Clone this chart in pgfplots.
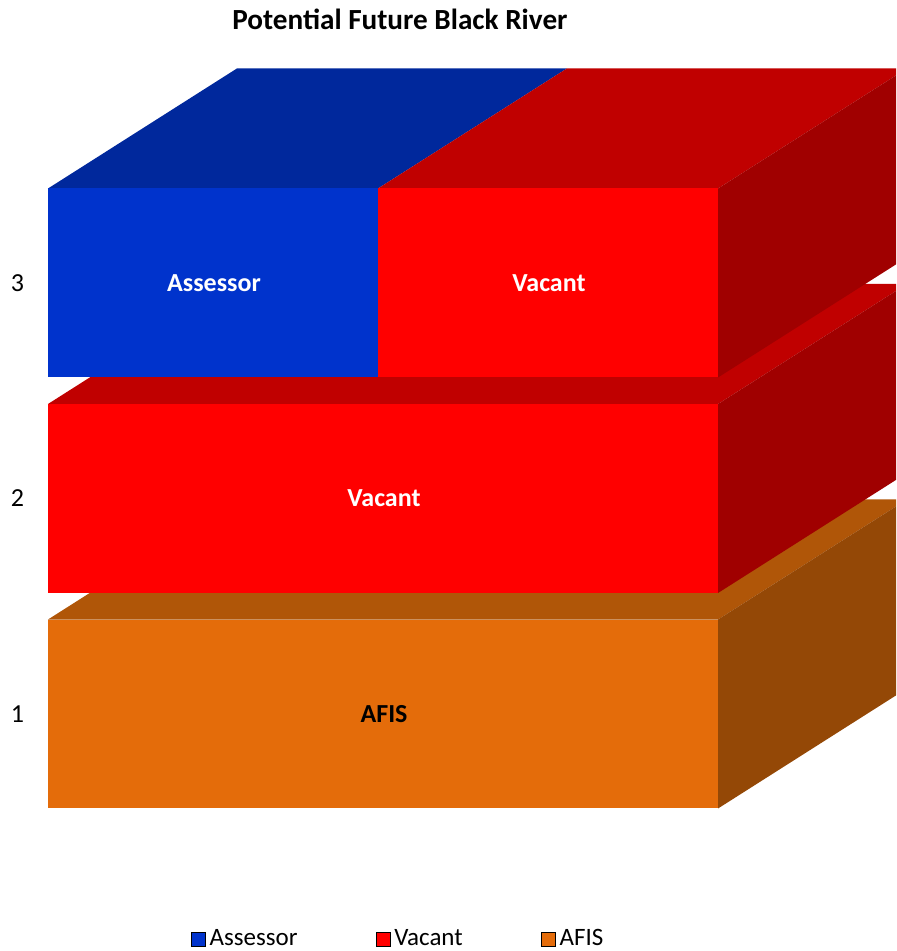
\documentclass[border=0pt]{standalone}
\usepackage{fontspec}
\setmainfont{Carlito}
\usepackage{pgfplots}
\pgfplotsset{compat=1.18}

\definecolor{asfront}{HTML}{0033CC}
\definecolor{astop}{HTML}{00289C}
\definecolor{vafront}{HTML}{FF0000}
\definecolor{vatop}{HTML}{C00000}
\definecolor{vaside}{HTML}{A00000}
\definecolor{affront}{HTML}{E46C0A}
\definecolor{aftop}{HTML}{B05608}
\definecolor{afside}{HTML}{944806}

\begin{document}
\begin{tikzpicture}
\begin{axis}[
    scale only axis,
    width=424pt, height=377.125pt,
    xmin=0, xmax=2.5313, ymin=0.5, ymax=4,
    axis line style={draw=none},
    xtick=\empty, ytick={1,2,3},
    major tick length=0pt,
    /pgf/number format/assume math mode=true,
    yticklabel style={anchor=center, xshift=-15.25pt, font=\fontsize{13}{15}\selectfont},
    title={Potential Future Black River},
    every axis title shift=0pt,
    title style={at={(0.415,1)}, anchor=center, yshift=23.9pt, font=\fontsize{14.6}{17}\selectfont\bfseries},
    legend style={at={(0.414,0)}, anchor=center, yshift=-58.6pt, draw=none, fill=none,
      legend columns=3, font=\fontsize{12.5}{14}\selectfont,
      /tikz/every even column/.append style={column sep=37pt}},
    legend image code/.code={\fill[#1] (0pt,-3.5pt) rectangle (7pt,3.5pt);},
  ]
  % top faces (depth: dx=0.564, dy=0.557, half bar=0.4385)
  \addplot[fill=aftop, draw=none, forget plot] coordinates {(0,1.4385) (0.564,1.9955) (2.564,1.9955) (2,1.4385)};
  \addplot[fill=vatop, draw=none, forget plot] coordinates {(0,2.4385) (0.564,2.9955) (2.564,2.9955) (2,2.4385)};
  \addplot[fill=astop, draw=none, forget plot] coordinates {(0,3.4385) (0.564,3.9955) (1.549,3.9955) (0.985,3.4385)};
  \addplot[fill=vatop, draw=none, forget plot] coordinates {(0.985,3.4385) (1.549,3.9955) (2.564,3.9955) (2,3.4385)};
  % side faces
  \addplot[fill=afside, draw=none, forget plot] coordinates {(2,0.5615) (2.564,1.1185) (2.564,1.9955) (2,1.4385)};
  \addplot[fill=vaside, draw=none, forget plot] coordinates {(2,1.5615) (2.564,2.1185) (2.564,2.9955) (2,2.4385)};
  \addplot[fill=vaside, draw=none, forget plot] coordinates {(2,2.5615) (2.564,3.1185) (2.564,3.9955) (2,3.4385)};
  % front faces: AFIS 2, Vacant 2, Assessor 0.985 + Vacant 1.015
  \addplot[xbar, /pgf/bar shift=0pt, bar width=0.877, fill=affront, draw=none, forget plot] coordinates {(2,1)};
  \addplot[xbar, /pgf/bar shift=0pt, bar width=0.877, fill=vafront, draw=none, forget plot] coordinates {(2,2)};
  \addplot[xbar, /pgf/bar shift=0pt, bar width=0.877, fill=vafront, draw=none, forget plot] coordinates {(2,3)};
  \addplot[xbar, /pgf/bar shift=0pt, bar width=0.877, fill=asfront, draw=none, forget plot] coordinates {(0.985,3)};

  \node[font=\fontsize{13}{15}\selectfont\bfseries, text=white] at (axis cs:0.4955,3) {Assessor};
  \node[font=\fontsize{13}{15}\selectfont\bfseries, text=white] at (axis cs:1.4955,3) {Vacant};
  \node[font=\fontsize{13}{15}\selectfont\bfseries, text=white] at (axis cs:1.003,2) {Vacant};
  \node[font=\fontsize{13}{15}\selectfont\bfseries, text=black] at (axis cs:1.003,1) {AFIS};

  \addlegendimage{fill=asfront}
  \addlegendimage{fill=vafront}
  \addlegendimage{fill=affront}
  \legend{Assessor,Vacant,AFIS}

  \coordinate (sw) at (rel axis cs:0,0);
  \coordinate (ne) at (rel axis cs:1,1);
\end{axis}
\pgfresetboundingbox
\path ([shift={(-24pt,-64.625pt)}]sw) rectangle ([shift={(0pt,33.75pt)}]ne);
\end{tikzpicture}
\end{document}
